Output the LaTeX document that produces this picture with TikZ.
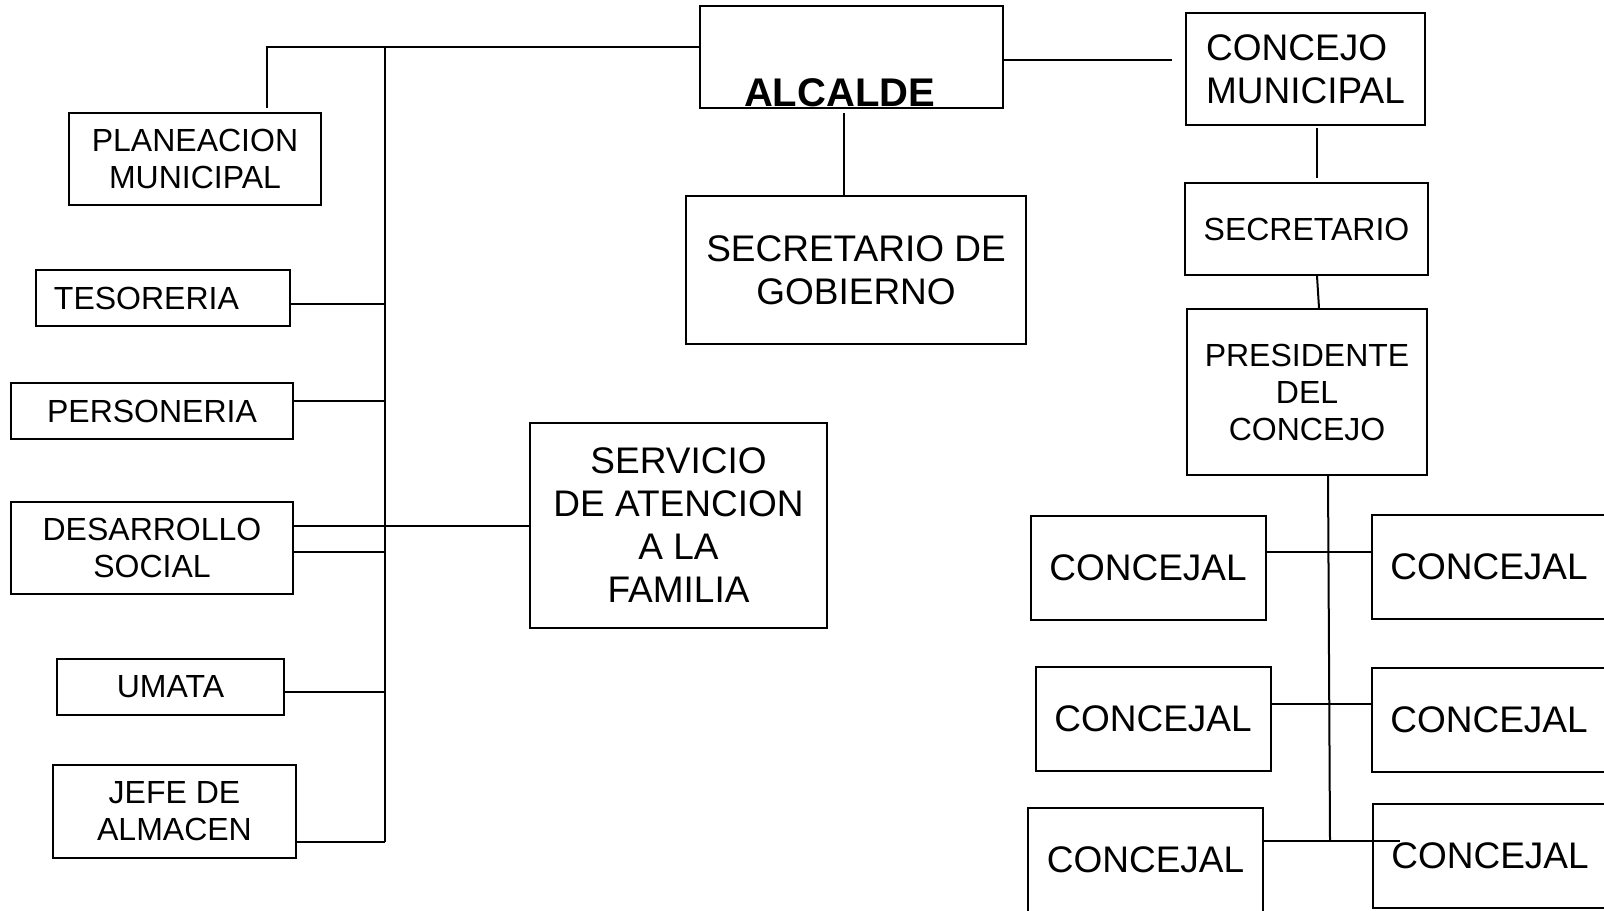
\documentclass[tikz,border=0pt]{standalone}
\usepackage{fontspec}
\setmainfont{Liberation Sans}
\usepackage{tikz}
\usetikzlibrary{positioning,calc}

\tikzset{
    box/.style={draw, line width=1pt, inner sep=0pt, align=center,
                font=\fontsize{16}{18.5}\selectfont},
    bigbox/.style={box, font=\fontsize{18.5}{21.5}\selectfont},
    link/.style={line width=1pt},
}

\begin{document}
\begin{tikzpicture}[x=0.5pt,y=-0.5pt]
    \useasboundingbox (0,0) rectangle (1604,910);

    % Alcalde and its offices
    \node[box, font=\bfseries\fontsize{20}{24}\selectfont, align=left,
          text width=107.5pt, inner xsep=22pt, text height=50pt, text depth=1pt,
          anchor=south west] (alcalde) at (699,109) {ALCALDE};
    \node[bigbox, minimum width=170pt, minimum height=74pt] (secgob) at (856,270)
        {SECRETARIO DE\\GOBIERNO};
    \node[bigbox, minimum width=148.5pt, minimum height=102.5pt] (servicio) at (678.5,525.5)
        {SERVICIO\\DE ATENCION\\A LA\\FAMILIA};

    % Left column
    \node[box, minimum width=126pt, minimum height=46pt] (planeacion) at (195,159)
        {PLANEACION\\MUNICIPAL};
    \node[box, align=left, text width=109pt, inner xsep=9pt, minimum height=28pt]
        (tesoreria) at (163,298) {TESORERIA};
    \node[box, minimum width=141pt, minimum height=28pt] (personeria) at (152,411)
        {PERSONERIA};
    \node[box, minimum width=141pt, minimum height=46pt] (desarrollo) at (152,548)
        {DESARROLLO\\SOCIAL};
    \node[box, minimum width=113.5pt, minimum height=28pt] (umata) at (170.5,687)
        {UMATA};
    \node[box, minimum width=121.5pt, minimum height=46.5pt] (almacen) at (174.5,811.5)
        {JEFE DE\\ALMACEN};

    % Concejo
    \node[bigbox, align=left, minimum width=119.5pt, minimum height=56pt] (concejo)
        at (1305.5,69) {CONCEJO\\MUNICIPAL};
    \node[box, minimum width=121.5pt, minimum height=46pt] (secre) at (1306.5,229)
        {SECRETARIO};
    \node[box, minimum width=120pt, minimum height=83pt] (presi) at (1307,392)
        {PRESIDENTE\\DEL\\CONCEJO};

    % Concejales
    \foreach \name/\x/\y in {cj1/1148/568, cj2/1489/567, cj3/1153/719,
                             cj4/1489/719.5, cj5/1145.5/860, cj6/1490/855.5} {
        \node[bigbox, minimum width=117.5pt, minimum height=52pt] (\name) at (\x,\y)
            {CONCEJAL};
    }

    % Trunk on the left
    \coordinate (trunktop) at (385,47);
    \coordinate (trunkbot) at (385,842);
    \draw[link, shorten >=2pt] (alcalde.west |- trunktop) -- (trunktop -| 267,0)
        -- (planeacion.north -| 267,0);
    \draw[link] (trunktop) -- (trunkbot);
    \foreach \name/\y in {tesoreria/304, personeria/401, desarrollo/552, umata/692} {
        \draw[link] (\name.east |- 0,\y) -- (trunktop |- 0,\y);
    }
    \draw[link] (almacen.east |- trunkbot) -- (trunkbot);
    \draw[link] (desarrollo.east |- 0,526) -- (servicio.west |- 0,526);

    % Alcalde links
    \draw[link, shorten >=6.5pt] (alcalde.east |- 0,60) -- (concejo.west |- 0,60);
    \draw[link, shorten <=2pt] (alcalde.south -| 844,0) -- (secgob.north -| 844,0);

    % Concejo links
    \draw[link, shorten <=1pt, shorten >=2pt] (concejo.south -| 1317,0)
        -- (secre.north -| 1317,0);
    \draw[link] (secre.south -| 1317,0) -- (presi.north -| 1319,0);
    \coordinate (cjtrunk) at (1330,841);
    \draw[link] (presi.south -| 1328,0) -- (cjtrunk);
    \foreach \l/\r/\y in {cj1/cj2/552, cj3/cj4/704} {
        \draw[link] (\l.east |- 0,\y) -- (\r.west |- 0,\y);
    }
    \draw[link, shorten >=-14pt] (cj5.east |- cjtrunk) -- (cj6.west |- cjtrunk);
\end{tikzpicture}
\end{document}
